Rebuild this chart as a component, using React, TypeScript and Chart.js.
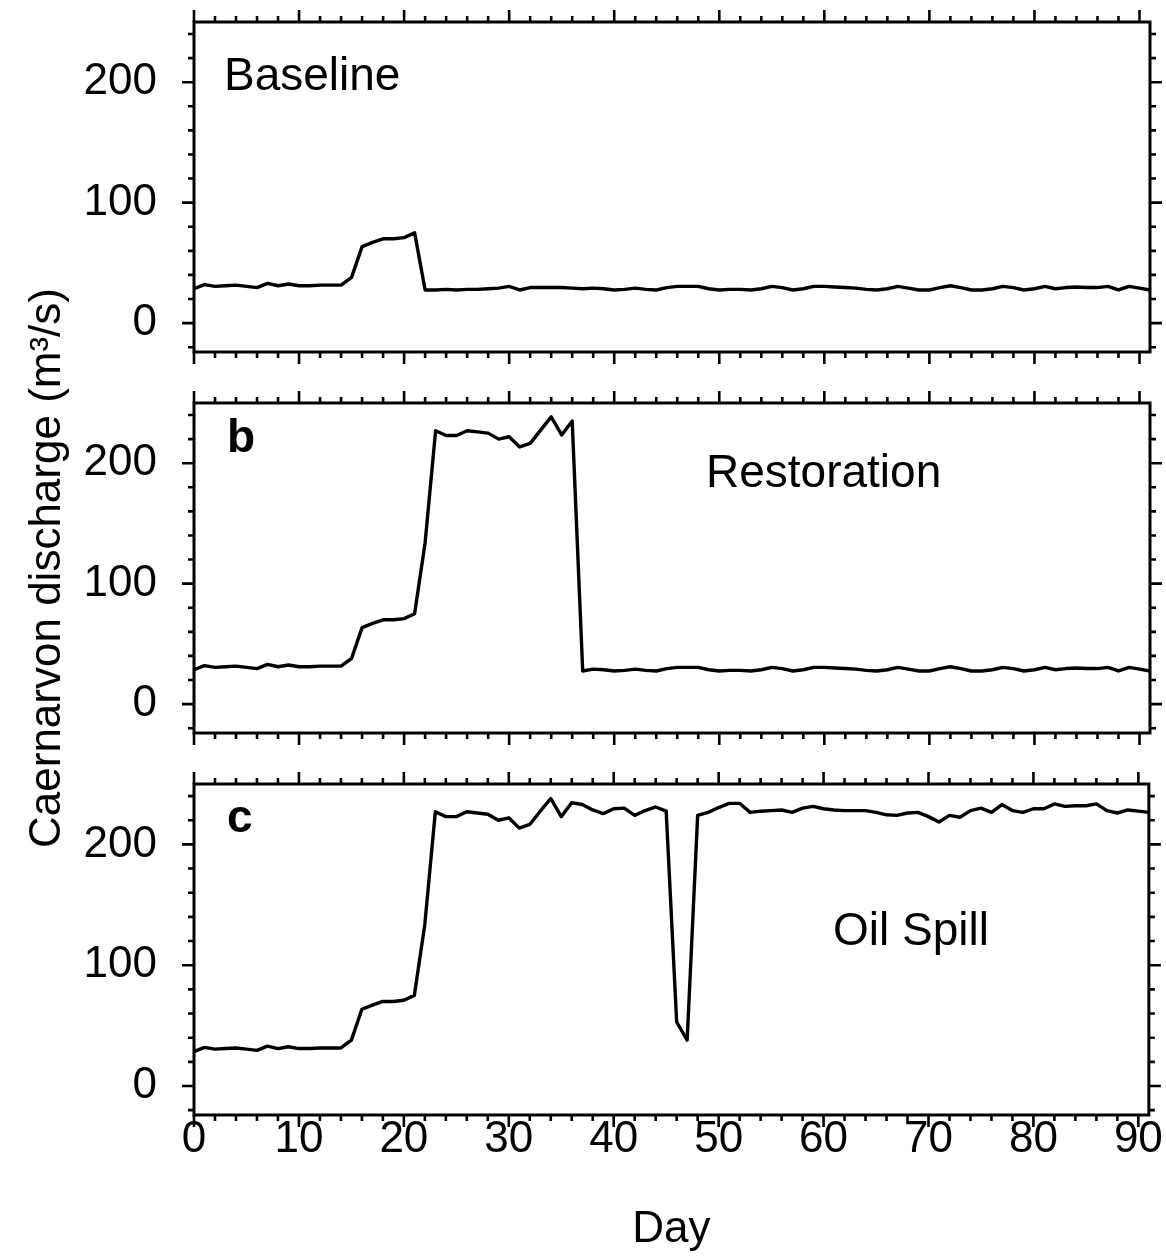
import React, { useEffect, useRef } from 'react';
import { Chart, registerables } from 'chart.js';

Chart.register(...registerables);

// ---------- data ----------
const DAYS = [
  0, 1, 2, 3, 4, 5, 6, 7, 8, 9, 10, 11, 12, 13, 14, 15, 16, 17, 18, 19,
  20, 21, 22, 23, 24, 25, 26, 27, 28, 29, 30, 31, 32, 33, 34, 35, 36, 37, 38, 39,
  40, 41, 42, 43, 44, 45, 46, 47, 48, 49, 50, 51, 52, 53, 54, 55, 56, 57, 58, 59,
  60, 61, 62, 63, 64, 65, 66, 67, 68, 69, 70, 71, 72, 73, 74, 75, 76, 77, 78, 79,
  80, 81, 82, 83, 84, 85, 86, 87, 88, 89, 90, 91,
];

// days 0-21, shared by all scenarios
const EARLY_FLOW = [
  28.5, 32, 30.5, 31, 31.5, 30.5, 29.5, 33, 31, 32.5, 31, 31, 31.5, 31.5, 31.5, 38,
  63.5, 67, 70, 70, 71, 75,
];

// Baseline: days 0-91
const BASELINE = [
  ...EARLY_FLOW,
  27.5, 27.5, 28, 27.5, 28, 28, 28.5, 29, 30.5, 27.5, 29.5, 29.5, 29.5, 29.5, 29, 28.5,
  29, 28.5, 27.5, 28, 29, 28, 27.5, 29.5, 30.5, 30.5, 30.5, 28.5, 27.5, 28, 28, 27.5,
  28.5, 30.5, 29.5, 27.5, 28.5, 30.5, 30.5, 30, 29.5, 29, 28, 27.5, 28.5, 30.5, 29, 27.5,
  27.5, 29.5, 31, 29.5, 27.5, 27.5, 28.5, 30.5, 29.5, 27.5, 28.5, 30.5, 28.5, 29.5, 30, 29.5,
  29.5, 30.5, 27.5, 30.5, 29, 27.5,
];

// Restoration: days 0-91
const RESTORATION = [
  ...EARLY_FLOW,
  134, 227, 223, 223, 227, 226, 225, 220, 222, 213.5, 216.5, 227.5, 238.5, 223.5, 235,
  27.5,
  29, 28.5, 27.5, 28, 29, 28, 27.5, 29.5, 30.5, 30.5, 30.5, 28.5, 27.5, 28, 28, 27.5,
  28.5, 30.5, 29.5, 27.5, 28.5, 30.5, 30.5, 30, 29.5, 29, 28, 27.5, 28.5, 30.5, 29, 27.5,
  27.5, 29.5, 31, 29.5, 27.5, 27.5, 28.5, 30.5, 29.5, 27.5, 28.5, 30.5, 28.5, 29.5, 30, 29.5,
  29.5, 30.5, 27.5, 30.5, 29, 27.5,
];

// Oil spill: days 0-91
const OIL_SPILL = [
  ...EARLY_FLOW,
  134, 227, 223, 223, 227, 226, 225, 220, 222, 213.5, 216.5, 227.5,
  238, 223, 234.5, 233, 228.5, 225.5, 229.5, 230, 224, 228, 231, 227.5, 53, 38,
  224, 226.5, 230.5, 234, 234, 226.5, 227.5, 228, 228.5, 226.5, 230, 231.5, 229.5, 228.5,
  228, 228, 228, 226.5, 224.5, 224, 226, 226.5, 223, 218.5, 224, 222.5, 228, 230, 226.5,
  233, 228, 226.5, 229.5, 229.5, 233.5, 231.5, 232, 232, 233.5, 228, 226, 228.5, 227.5,
  226.5,
];

const SERIES = [BASELINE, RESTORATION, OIL_SPILL];
const SCENARIO_LABELS = ['Baseline', 'Restoration', 'Oil Spill'];
const PANEL_LETTERS = ['', 'b', 'c'];
const X_TICKS = [0, 10, 20, 30, 40, 50, 60, 70, 80, 90];
const Y_TICKS = [0, 100, 200];
const Y_TITLE = 'Caernarvon discharge (m³/s)';
const X_TITLE = 'Day';

// ---------- styling ----------
const FONT = '"Liberation Sans", Arial, Helvetica, sans-serif';
const W = 1166;
// canvas geometry: chart area tops at 22, 403, 784
const CANVAS_TOPS = [0, 243, 762];
const CANVAS_HEIGHTS = [374, 650, 497];
const PAD_TOP = [22, 160, 22];
const PAD_BOTTOM = [22, 160, 0];

// text placement relative to each chart area (left, baseline)
const SCENARIO_POS = [
  { dx: 30, dy: 68 },
  { dx: 512, dy: 84 },
  { dx: 639, dy: 161 },
];
const LETTER_POS = [
  { dx: 33, dy: 49 },
  { dx: 33, dy: 49 },
  { dx: 33, dy: 48 },
];

function makeDecor(idx: number) {
  return {
    id: 'panelDecor' + idx,
    afterDatasetsDraw(chart: any) {
      const { ctx, chartArea } = chart;
      const { left, right, top, bottom } = chartArea;
      const xs = chart.scales.x;
      const ys = chart.scales.y;
      ctx.save();
      ctx.strokeStyle = '#000';
      ctx.lineWidth = 3;
      ctx.lineCap = 'butt';
      ctx.strokeRect(left, top, right - left, bottom - top);
      ctx.lineWidth = 2.6;
      ctx.beginPath();
      for (let v = 0; v <= 90; v += 2) {
        const px = xs.getPixelForValue(v);
        const len = v % 10 === 0 ? 12 : 6;
        ctx.moveTo(px, top);
        ctx.lineTo(px, top - len);
        ctx.moveTo(px, bottom);
        ctx.lineTo(px, bottom + len);
      }
      for (let v = -20; v <= 240; v += 20) {
        const py = ys.getPixelForValue(v);
        const len = v % 100 === 0 ? 12 : 6;
        ctx.moveTo(left, py);
        ctx.lineTo(left - len, py);
        ctx.moveTo(right, py);
        ctx.lineTo(right + len, py);
      }
      ctx.stroke();

      ctx.fillStyle = '#000';
      ctx.textBaseline = 'alphabetic';
      ctx.textAlign = 'left';
      ctx.font = `46px ${FONT}`;
      const sp = SCENARIO_POS[idx];
      ctx.fillText(SCENARIO_LABELS[idx], left + sp.dx, top + sp.dy);
      if (PANEL_LETTERS[idx]) {
        ctx.font = `bold 46px ${FONT}`;
        const lp = LETTER_POS[idx];
        ctx.fillText(PANEL_LETTERS[idx], left + lp.dx, top + lp.dy);
      }
      ctx.restore();
    },
  };
}

function makeConfig(idx: number): any {
  const values = SERIES[idx];
  const isBottom = idx === 2;
  const showYTitle = idx === 1;
  return {
    type: 'line',
    data: {
      datasets: [
        {
          data: DAYS.map((d, i) => ({ x: d, y: values[i] })),
          borderColor: '#000',
          borderWidth: 3.4,
          pointRadius: 0,
          tension: 0,
          fill: false,
          borderJoinStyle: 'round',
          borderCapStyle: 'round',
        },
      ],
    },
    options: {
      responsive: false,
      animation: false,
      devicePixelRatio: 1,
      layout: { padding: { top: PAD_TOP[idx], right: 16, bottom: PAD_BOTTOM[idx], left: 0 } },
      plugins: { legend: { display: false }, tooltip: { enabled: false } },
      scales: {
        x: {
          type: 'linear',
          min: 0,
          max: 91,
          display: isBottom,
          grid: { display: false, drawTicks: false },
          border: { display: false },
          afterBuildTicks: (s: any) => {
            s.ticks = X_TICKS.map((v) => ({ value: v }));
          },
          ticks: {
            color: '#000',
            padding: 3,
            maxRotation: 0,
            autoSkip: false,
            font: { family: FONT, size: 44, lineHeight: 1 },
          },
          title: {
            display: isBottom,
            text: X_TITLE,
            color: '#000',
            font: { family: FONT, size: 44, lineHeight: 1 },
            padding: { top: 0, bottom: 7 },
          },
          afterFit: (s: any) => {
            if (isBottom) s.height = 144;
          },
        },
        y: {
          type: 'linear',
          min: -24,
          max: 250,
          grid: { display: false, drawTicks: true, tickLength: 37 },
          border: { display: false },
          afterBuildTicks: (s: any) => {
            s.ticks = Y_TICKS.map((v) => ({ value: v }));
          },
          ticks: {
            color: '#000',
            padding: 0,
            font: { family: FONT, size: 44, lineHeight: 0.8 },
          },
          title: {
            display: showYTitle,
            text: Y_TITLE,
            color: '#000',
            font: { family: FONT, size: 44, lineHeight: 1.2 },
            padding: { top: 21, bottom: 0 },
          },
          afterFit: (s: any) => {
            s.width = 194;
          },
        },
      },
    },
    plugins: [makeDecor(idx)],
  };
}

function Panel({ idx }: { idx: number }) {
  const ref = useRef<HTMLCanvasElement | null>(null);
  useEffect(() => {
    if (!ref.current) return;
    const chart = new Chart(ref.current, makeConfig(idx));
    return () => chart.destroy();
  }, [idx]);
  return (
    <canvas
      ref={ref}
      width={W}
      height={CANVAS_HEIGHTS[idx]}
      style={{ position: 'absolute', left: 0, top: CANVAS_TOPS[idx], width: W, height: CANVAS_HEIGHTS[idx] }}
    />
  );
}

export default function App() {
  return (
    <div
      style={{
        position: 'fixed',
        left: 0,
        top: 0,
        width: W,
        height: 1259,
        background: '#fff',
        overflow: 'hidden',
      }}
    >
      <Panel idx={0} />
      <Panel idx={2} />
      <Panel idx={1} />
    </div>
  );
}
